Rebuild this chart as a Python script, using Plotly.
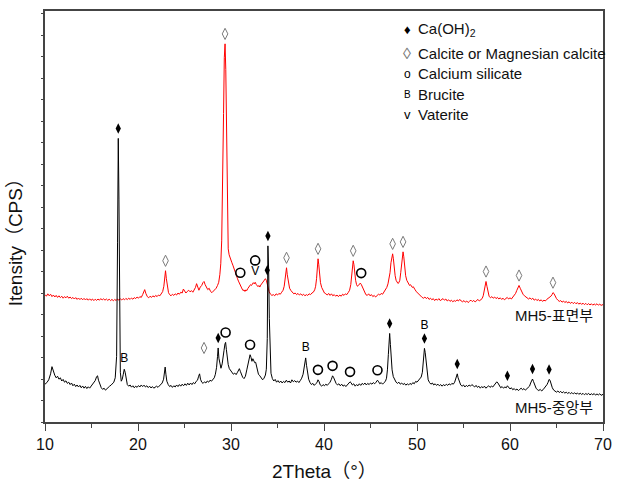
import numpy as np
import plotly.graph_objects as go

# ---- XRD scans (2theta in degrees, intensity in counts) ----
# MH5 centre (중앙부)
center_theta = [
    10.0, 10.2, 10.4, 10.6, 10.75, 10.9, 11.05, 11.2, 11.35, 11.5,
    11.65, 11.8, 11.95, 12.1, 12.25, 12.4, 12.55, 12.7, 12.85, 13.0,
    13.15, 13.3, 13.45, 13.6, 13.75, 13.9, 14.05, 14.2, 14.35, 14.5,
    14.65, 14.8, 14.95, 15.1, 15.25, 15.4, 15.55, 15.65, 15.75, 15.9,
    16.05, 16.2, 16.35, 16.5, 16.65, 16.8, 16.95, 17.1, 17.25, 17.4,
    17.55, 17.7, 17.8, 17.88, 17.95, 18.02, 18.1, 18.2, 18.3, 18.42,
    18.52, 18.62, 18.72, 18.85, 19.0, 19.15, 19.3, 19.45, 19.6, 19.75,
    19.9, 20.05, 20.2, 20.35, 20.5, 20.65, 20.8, 20.95, 21.1, 21.25,
    21.4, 21.55, 21.7, 21.85, 22.0, 22.15, 22.3, 22.45, 22.6, 22.75,
    22.85, 22.92, 23.0, 23.1, 23.25, 23.4, 23.55, 23.7, 23.85, 24.0,
    24.15, 24.3, 24.45, 24.6, 24.75, 24.9, 25.05, 25.2, 25.35, 25.5,
    25.65, 25.8, 25.95, 26.1, 26.25, 26.4, 26.52, 26.62, 26.72, 26.85,
    27.0, 27.15, 27.3, 27.45, 27.6, 27.75, 27.9, 28.05, 28.2, 28.32,
    28.45, 28.55, 28.62, 28.7, 28.8, 28.92, 29.05, 29.15, 29.25, 29.35,
    29.42, 29.5, 29.6, 29.7, 29.82, 29.95, 30.1, 30.25, 30.4, 30.55,
    30.7, 30.8, 30.9, 31.0, 31.1, 31.25, 31.4, 31.55, 31.7, 31.85,
    31.95, 32.05, 32.15, 32.25, 32.35, 32.45, 32.55, 32.65, 32.8, 32.95,
    33.1, 33.25, 33.4, 33.55, 33.7, 33.8, 33.9, 33.97, 34.05, 34.12,
    34.2, 34.3, 34.45, 34.6, 34.75, 34.9, 35.05, 35.2, 35.35, 35.5,
    35.65, 35.8, 35.95, 36.1, 36.25, 36.4, 36.55, 36.7, 36.85, 37.0,
    37.15, 37.3, 37.45, 37.6, 37.75, 37.85, 37.95, 38.03, 38.12, 38.22,
    38.35, 38.5, 38.65, 38.8, 38.95, 39.1, 39.25, 39.35, 39.45, 39.6,
    39.75, 39.9, 40.05, 40.2, 40.35, 40.5, 40.65, 40.8, 40.92, 41.02,
    41.15, 41.3, 41.45, 41.6, 41.75, 41.9, 42.05, 42.2, 42.35, 42.5,
    42.65, 42.8, 42.9, 43.05, 43.2, 43.35, 43.5, 43.65, 43.8, 43.95,
    44.1, 44.25, 44.4, 44.55, 44.7, 44.85, 45.0, 45.15, 45.3, 45.45,
    45.6, 45.75, 45.88, 46.0, 46.15, 46.3, 46.45, 46.6, 46.72, 46.82,
    46.92, 47.0, 47.06, 47.14, 47.22, 47.32, 47.45, 47.6, 47.75, 47.9,
    48.05, 48.2, 48.35, 48.5, 48.65, 48.8, 48.95, 49.1, 49.25, 49.4,
    49.55, 49.7, 49.85, 50.0, 50.15, 50.3, 50.45, 50.58, 50.7, 50.8,
    50.88, 50.98, 51.08, 51.2, 51.35, 51.5, 51.65, 51.8, 51.95, 52.1,
    52.25, 52.4, 52.55, 52.7, 52.85, 53.0, 53.15, 53.3, 53.45, 53.6,
    53.75, 53.9, 54.05, 54.15, 54.25, 54.33, 54.42, 54.55, 54.7, 54.85,
    55.0, 55.15, 55.3, 55.45, 55.6, 55.75, 55.9, 56.05, 56.2, 56.35,
    56.5, 56.65, 56.8, 56.95, 57.1, 57.25, 57.4, 57.55, 57.7, 57.85,
    58.0, 58.15, 58.3, 58.45, 58.58, 58.7, 58.85, 59.0, 59.15, 59.3,
    59.45, 59.6, 59.72, 59.85, 60.0, 60.15, 60.3, 60.45, 60.6, 60.75,
    60.9, 61.05, 61.2, 61.35, 61.5, 61.65, 61.8, 61.95, 62.1, 62.22,
    62.32, 62.42, 62.52, 62.65, 62.8, 62.95, 63.1, 63.25, 63.4, 63.55,
    63.7, 63.85, 63.98, 64.1, 64.2, 64.3, 64.42, 64.55, 64.7, 64.85,
    65.0, 65.15, 65.3, 65.45, 65.6, 65.75, 65.9, 66.05, 66.2, 66.35,
    66.5, 66.65, 66.8, 66.95, 67.1, 67.25, 67.4, 67.55, 67.7, 67.85,
    68.0, 68.15, 68.3, 68.45, 68.6, 68.75, 68.9, 69.05, 69.2, 69.35,
    69.5, 69.65, 69.8, 70.0,
]
center_cps = [
    190, 198, 212, 242, 278, 252, 235, 222, 230, 215,
    222, 206, 214, 200, 207, 194, 200, 188, 196, 182,
    190, 178, 186, 176, 184, 172, 181, 170, 179, 168,
    177, 170, 180, 186, 194, 208, 228, 232, 210, 186,
    172, 164, 170, 160, 168, 172, 180, 185, 192, 200,
    222, 330, 900, 1425, 1120, 520, 250, 205, 214, 240,
    265, 250, 212, 188, 180, 186, 175, 182, 172, 180,
    174, 183, 176, 186, 178, 185, 176, 182, 173, 180,
    171, 178, 170, 176, 180, 174, 183, 190, 196, 215,
    262, 276, 240, 205, 188, 178, 184, 174, 182, 176,
    186, 178, 188, 180, 190, 182, 192, 184, 195, 186,
    196, 188, 198, 192, 204, 210, 230, 242, 215, 200,
    194, 202, 196, 206, 200, 210, 205, 215, 222, 240,
    275, 330, 372, 320, 285, 270, 292, 318, 360, 392,
    400, 365, 318, 288, 268, 258, 252, 240, 246, 238,
    250, 262, 268, 255, 238, 225, 218, 230, 262, 295,
    318, 338, 325, 305, 318, 310, 298, 300, 262, 240,
    232, 222, 212, 220, 236, 265, 420, 885, 760, 520,
    300, 245, 218, 206, 214, 200, 208, 198, 206, 196,
    204, 198, 210, 200, 206, 196, 212, 202, 208, 200,
    206, 198, 208, 220, 240, 275, 310, 322, 285, 245,
    215, 198, 188, 194, 184, 192, 198, 212, 205, 186,
    180, 188, 182, 190, 184, 192, 200, 215, 232, 225,
    208, 194, 186, 192, 182, 190, 180, 186, 178, 188,
    192, 202, 198, 186, 192, 180, 188, 182, 192, 184,
    194, 188, 196, 186, 194, 188, 196, 190, 198, 192,
    200, 210, 202, 192, 198, 190, 198, 204, 220, 262,
    340, 410, 445, 390, 320, 262, 228, 210, 200, 194,
    200, 190, 196, 188, 194, 185, 192, 186, 194, 188,
    198, 192, 204, 200, 210, 214, 226, 250, 320, 370,
    350, 300, 245, 212, 198, 190, 196, 186, 192, 184,
    190, 182, 188, 180, 188, 182, 190, 184, 192, 186,
    194, 190, 200, 214, 232, 242, 222, 200, 186, 180,
    186, 176, 184, 178, 186, 180, 188, 182, 176, 184,
    174, 180, 170, 178, 172, 180, 170, 176, 182, 174,
    180, 176, 184, 190, 202, 196, 182, 172, 178, 170,
    176, 172, 182, 174, 166, 172, 162, 168, 160, 166,
    158, 164, 170, 162, 168, 160, 166, 172, 180, 196,
    208, 216, 204, 186, 170, 162, 158, 164, 156, 162,
    170, 176, 188, 200, 214, 210, 190, 172, 160, 154,
    150, 156, 148, 154, 146, 152, 145, 150, 143, 149,
    142, 148, 141, 147, 140, 146, 139, 145, 138, 144,
    137, 143, 138, 144, 136, 142, 137, 143, 135, 141,
    136, 142, 134, 139,
]

# MH5 surface (표면부), plotted with a vertical offset above the centre scan
surface_theta = [
    10.0, 10.15, 10.3, 10.45, 10.6, 10.75, 10.9, 11.05, 11.2, 11.35,
    11.5, 11.65, 11.8, 11.95, 12.1, 12.25, 12.4, 12.55, 12.7, 12.85,
    13.0, 13.15, 13.3, 13.45, 13.6, 13.75, 13.9, 14.05, 14.2, 14.35,
    14.5, 14.65, 14.8, 14.95, 15.1, 15.25, 15.4, 15.55, 15.7, 15.85,
    16.0, 16.15, 16.3, 16.45, 16.6, 16.75, 16.9, 17.05, 17.2, 17.35,
    17.5, 17.65, 17.8, 17.95, 18.1, 18.25, 18.4, 18.55, 18.7, 18.85,
    19.0, 19.15, 19.3, 19.45, 19.6, 19.75, 19.9, 20.05, 20.2, 20.35,
    20.5, 20.62, 20.72, 20.85, 21.0, 21.15, 21.3, 21.45, 21.6, 21.75,
    21.9, 22.05, 22.2, 22.35, 22.5, 22.65, 22.78, 22.88, 22.96, 23.05,
    23.15, 23.28, 23.4, 23.55, 23.7, 23.85, 24.0, 24.15, 24.3, 24.45,
    24.6, 24.75, 24.88, 25.0, 25.15, 25.3, 25.45, 25.6, 25.75, 25.9,
    26.05, 26.18, 26.3, 26.42, 26.55, 26.7, 26.85, 26.98, 27.1, 27.22,
    27.35, 27.5, 27.65, 27.8, 27.95, 28.1, 28.25, 28.4, 28.55, 28.68,
    28.8, 28.9, 29.0, 29.1, 29.2, 29.28, 29.36, 29.44, 29.52, 29.6,
    29.7, 29.8, 29.9, 30.0, 30.1, 30.2, 30.3, 30.4, 30.5, 30.6,
    30.7, 30.8, 30.9, 31.0, 31.1, 31.2, 31.3, 31.4, 31.5, 31.6,
    31.7, 31.8, 31.9, 32.0, 32.1, 32.2, 32.3, 32.4, 32.5, 32.6,
    32.7, 32.8, 32.9, 33.0, 33.1, 33.2, 33.3, 33.4, 33.5, 33.6,
    33.7, 33.8, 33.9, 34.0, 34.1, 34.25, 34.4, 34.55, 34.7, 34.85,
    35.0, 35.15, 35.3, 35.45, 35.6, 35.72, 35.82, 35.9, 35.97, 36.05,
    36.15, 36.3, 36.45, 36.6, 36.75, 36.9, 37.05, 37.2, 37.35, 37.5,
    37.65, 37.8, 37.95, 38.1, 38.25, 38.4, 38.55, 38.7, 38.85, 39.0,
    39.1, 39.2, 39.28, 39.36, 39.44, 39.52, 39.62, 39.75, 39.9, 40.05,
    40.2, 40.35, 40.5, 40.65, 40.8, 40.95, 41.1, 41.25, 41.4, 41.55,
    41.7, 41.85, 42.0, 42.15, 42.3, 42.45, 42.6, 42.75, 42.88, 42.98,
    43.06, 43.14, 43.22, 43.3, 43.4, 43.5, 43.6, 43.7, 43.8, 43.9,
    44.0, 44.1, 44.2, 44.35, 44.5, 44.65, 44.8, 44.95, 45.1, 45.25,
    45.4, 45.55, 45.7, 45.85, 46.0, 46.15, 46.3, 46.45, 46.6, 46.75,
    46.88, 47.0, 47.1, 47.2, 47.3, 47.38, 47.46, 47.55, 47.65, 47.75,
    47.85, 47.95, 48.05, 48.15, 48.25, 48.35, 48.43, 48.5, 48.58, 48.68,
    48.78, 48.9, 49.0, 49.1, 49.2, 49.3, 49.4, 49.5, 49.6, 49.7,
    49.8, 49.95, 50.1, 50.25, 50.4, 50.55, 50.7, 50.85, 51.0, 51.15,
    51.3, 51.45, 51.6, 51.75, 51.9, 52.05, 52.2, 52.35, 52.5, 52.65,
    52.8, 52.95, 53.1, 53.25, 53.4, 53.55, 53.7, 53.85, 54.0, 54.15,
    54.3, 54.45, 54.6, 54.75, 54.9, 55.05, 55.2, 55.35, 55.5, 55.65,
    55.8, 55.95, 56.1, 56.25, 56.4, 56.55, 56.7, 56.85, 57.0, 57.12,
    57.22, 57.32, 57.42, 57.52, 57.62, 57.75, 57.9, 58.05, 58.2, 58.35,
    58.5, 58.65, 58.8, 58.95, 59.1, 59.25, 59.4, 59.55, 59.7, 59.85,
    60.0, 60.15, 60.3, 60.45, 60.6, 60.72, 60.85, 60.97, 61.1, 61.25,
    61.4, 61.55, 61.7, 61.85, 62.0, 62.15, 62.3, 62.45, 62.6, 62.75,
    62.9, 63.05, 63.2, 63.35, 63.5, 63.65, 63.8, 63.95, 64.1, 64.25,
    64.4, 64.52, 64.62, 64.72, 64.85, 65.0, 65.15, 65.3, 65.45, 65.6,
    65.75, 65.9, 66.05, 66.2, 66.35, 66.5, 66.65, 66.8, 66.95, 67.1,
    67.25, 67.4, 67.55, 67.7, 67.85, 68.0, 68.15, 68.3, 68.45, 68.6,
    68.75, 68.9, 69.05, 69.2, 69.35, 69.5, 69.65, 69.8, 70.0,
]
surface_cps = [
    190, 182, 194, 184, 192, 180, 188, 178, 186, 176,
    184, 175, 182, 172, 180, 174, 182, 172, 178, 170,
    176, 168, 175, 166, 173, 165, 172, 164, 171, 163,
    170, 162, 169, 161, 168, 160, 167, 161, 168, 162,
    170, 163, 169, 162, 168, 161, 167, 160, 166, 159,
    166, 160, 168, 162, 169, 163, 170, 164, 171, 165,
    172, 166, 173, 167, 175, 170, 178, 172, 180, 176,
    190, 208, 215, 195, 180, 174, 182, 176, 184, 178,
    186, 180, 188, 184, 194, 205, 232, 280, 310, 270,
    225, 200, 190, 184, 192, 186, 194, 188, 198, 192,
    202, 198, 218, 205, 198, 206, 212, 204, 210, 202,
    214, 226, 245, 222, 212, 228, 236, 250, 256, 240,
    226, 215, 222, 206, 200, 208, 214, 222, 236, 252,
    290, 345, 460, 700, 1100, 1380, 1450, 1320, 960, 620,
    420, 390, 372, 360, 350, 338, 322, 305, 290, 280,
    270, 258, 250, 238, 228, 218, 210, 214, 206, 214,
    210, 220, 226, 234, 240, 236, 246, 250, 244, 252,
    242, 236, 230, 236, 228, 238, 244, 252, 258, 264,
    270, 262, 238, 222, 205, 192, 186, 190, 184, 194,
    188, 196, 192, 202, 212, 232, 268, 310, 325, 290,
    250, 222, 210, 200, 194, 198, 190, 196, 188, 194,
    186, 192, 184, 190, 186, 194, 190, 198, 202, 214,
    232, 270, 330, 370, 340, 290, 250, 226, 210, 198,
    194, 188, 196, 186, 194, 184, 190, 182, 188, 180,
    188, 182, 192, 186, 194, 190, 200, 212, 240, 290,
    330, 360, 340, 295, 262, 240, 232, 236, 244, 248,
    242, 232, 218, 200, 190, 186, 194, 184, 190, 180,
    186, 178, 184, 192, 188, 196, 192, 202, 214, 226,
    244, 268, 300, 350, 385, 395, 370, 320, 285, 262,
    252, 246, 250, 262, 300, 360, 395, 405, 380, 325,
    285, 262, 252, 244, 236, 240, 232, 226, 230, 218,
    214, 204, 196, 190, 182, 176, 172, 178, 170, 176,
    166, 172, 164, 170, 160, 168, 162, 170, 160, 166,
    170, 162, 168, 158, 164, 156, 162, 154, 160, 156,
    164, 158, 166, 158, 154, 160, 152, 158, 150, 157,
    162, 155, 161, 153, 160, 166, 158, 164, 170, 184,
    215, 245, 256, 232, 200, 182, 174, 180, 172, 178,
    170, 176, 168, 174, 166, 172, 164, 170, 176, 168,
    174, 168, 176, 184, 196, 210, 226, 236, 222, 204,
    192, 184, 178, 172, 168, 174, 166, 172, 162, 168,
    160, 166, 158, 164, 156, 162, 158, 166, 170, 174,
    182, 190, 200, 196, 180, 170, 162, 156, 160, 152,
    158, 150, 156, 148, 154, 146, 152, 145, 151, 144,
    150, 142, 148, 141, 147, 140, 146, 139, 145, 138,
    144, 137, 143, 138, 144, 137, 142, 136, 140,
]
surface_offset = 450

# ---- phase assignments: peak positions (2theta) per scan ----
center_caoh2 = [17.88, 28.62, 33.97, 47.06, 50.8, 54.33, 59.72, 62.42, 64.2]
center_calcite = [27.1]
center_silicate = [29.42, 32.05, 39.35, 40.92, 42.8, 45.75]
center_brucite = [18.52, 38.03, 50.8]
surface_caoh2 = [33.9]
surface_calcite = [22.96, 29.36, 35.97, 39.36, 43.14, 47.38, 48.5, 57.42, 60.97, 64.62]
surface_silicate = [31.0, 32.6, 44.0]
surface_vaterite = [32.6]
# symbols stacked above another label at the same peak: (2theta, level)
stacked = {("center", "calcite", 27.1): 2, ("center", "brucite", 50.8): 1,
           ("surface", "silicate", 32.6): 1}

legend_items = ["Ca(OH)<sub>2</sub>", "Calcite or Magnesian calcite",
                "Calcium silicate", "Brucite", "Vaterite"]
legend_glyphs = ["\u2666", "\u25ca", "o", "B", "v"]
sample_names = ["MH5-표면부", "MH5-중앙부"]

c_t = np.array(center_theta)
c_y = np.array(center_cps, dtype=float)
s_t = np.array(surface_theta)
s_y = np.array(surface_cps, dtype=float) + surface_offset
assert len(c_t) == len(c_y) and len(s_t) == len(s_y)

GAP, STEP = 50, 60
FONT = "Liberation Sans, Arial, Noto Sans CJK KR, sans-serif"


def label_y(scan, name, peaks):
    t, y = (c_t, c_y) if scan == "center" else (s_t, s_y)
    out = []
    for p in peaks:
        top = y[np.abs(t - p) <= 0.12].max()
        out.append(top + GAP + STEP * stacked.get((scan, name, p), 0))
    return out


fig = go.Figure()
fig.add_trace(go.Scatter(x=s_t, y=s_y, mode="lines",
                         line=dict(color="#ff0000", width=1)))
fig.add_trace(go.Scatter(x=c_t, y=c_y, mode="lines",
                         line=dict(color="#000000", width=1)))

diamond = dict(symbol="diamond-tall", size=7.5, color="#000000")
open_diamond = dict(symbol="diamond-tall-open", size=8, color="#7a7a7a",
                    line=dict(width=1, color="#7a7a7a"))
ring = dict(symbol="circle-open", size=9, color="#000000",
            line=dict(width=1.6, color="#000000"))

for scan, name, peaks, style in [
    ("center", "caoh2", center_caoh2, diamond),
    ("surface", "caoh2", surface_caoh2, diamond),
    ("center", "calcite", center_calcite, open_diamond),
    ("surface", "calcite", surface_calcite, open_diamond),
    ("center", "silicate", center_silicate, ring),
    ("surface", "silicate", surface_silicate, ring),
]:
    fig.add_trace(go.Scatter(x=peaks, y=label_y(scan, name, peaks),
                             mode="markers", marker=style))

for scan, name, peaks, letter in [
    ("center", "brucite", center_brucite, "B"),
    ("surface", "vaterite", surface_vaterite, "V"),
]:
    fig.add_trace(go.Scatter(x=peaks, y=label_y(scan, name, peaks),
                             mode="text", text=[letter] * len(peaks),
                             textposition="middle center",
                             textfont=dict(family=FONT, size=12, color="black")))

annotations = []
# phase key in the upper right corner
key_y = [0.954, 0.896, 0.847, 0.797, 0.748]
glyph_style = [dict(size=13, color="#000"), dict(size=16, color="#777"),
               dict(size=12, color="#000"), dict(size=10, color="#000"),
               dict(size=13, color="#000")]
for label, glyph, gy, gs in zip(legend_items, legend_glyphs, key_y, glyph_style):
    annotations.append(dict(xref="paper", yref="paper", x=0.6496, y=gy,
                            text=glyph, showarrow=False, xanchor="center",
                            yanchor="middle", font=dict(family=FONT, **gs)))
    annotations.append(dict(xref="paper", yref="paper", x=0.665, y=gy,
                            text=label, showarrow=False, xanchor="left",
                            yanchor="middle",
                            font=dict(family=FONT, size=15, color="#111")))

for name, ny in zip(sample_names, [0.259, 0.036]):
    annotations.append(dict(xref="paper", yref="paper", x=0.986, y=ny,
                            text=name, showarrow=False, xanchor="right",
                            yanchor="middle",
                            font=dict(family=FONT, size=15, color="#111")))

annotations.append(dict(xref="paper", yref="paper", x=0.5, y=-0.121,
                        text="2Theta（°）", showarrow=False, xanchor="center",
                        yanchor="middle",
                        font=dict(family=FONT, size=19, color="#111")))
annotations.append(dict(xref="paper", yref="paper", x=-0.053, y=0.448,
                        text="Itensity（CPS）", showarrow=False, textangle=-90,
                        xanchor="center", yanchor="middle",
                        font=dict(family=FONT, size=19, color="#111")))

fig.update_layout(
    width=621, height=485,
    margin=dict(l=45, r=11, t=9, b=63),
    paper_bgcolor="white", plot_bgcolor="white",
    showlegend=False,
    annotations=annotations,
    font=dict(family=FONT, color="#111"),
)
fig.update_xaxes(
    range=[10, 70], dtick=10, tick0=10,
    showgrid=False, zeroline=False,
    showline=True, linecolor="#444", linewidth=2, mirror=True,
    ticks="outside", ticklen=7, tickwidth=1, tickcolor="#444",
    minor=dict(ticks="outside", dtick=5, ticklen=4, tickcolor="#444",
               showgrid=False),
    tickfont=dict(family=FONT, size=16, color="#111"),
)
fig.update_yaxes(
    range=[0, 2065], dtick=108, tick0=0,
    showgrid=False, zeroline=False, showticklabels=False,
    showline=True, linecolor="#444", linewidth=2, mirror=True,
    ticks="outside", ticklen=2, tickwidth=1, tickcolor="#444",
)

fig.write_html("out.html", config={"displayModeBar": False})
